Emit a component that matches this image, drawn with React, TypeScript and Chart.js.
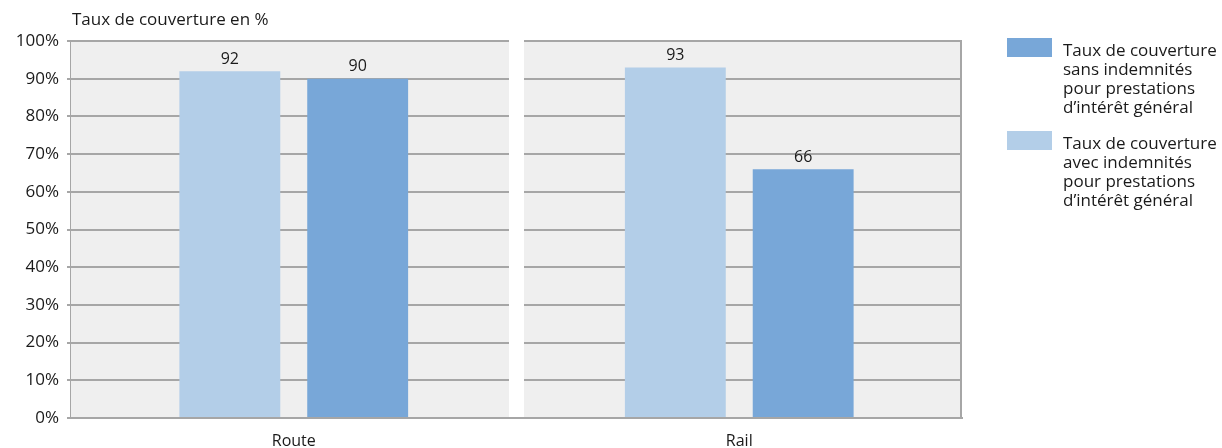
import React, { useEffect, useRef } from "react";
import { Chart, registerables } from "chart.js";

Chart.register(...registerables);

const categories = ["Route", "Rail"];
const avecValues = [92, 93];
const sansValues = [90, 66];
const yTicks = [0, 10, 20, 30, 40, 50, 60, 70, 80, 90, 100];
const axisTitle = "Taux de couverture en %";
const legendSans = ["Taux de couverture", "sans indemnités", "pour prestations", "d\u2019intérêt général"];
const legendAvec = ["Taux de couverture", "avec indemnités", "pour prestations", "d\u2019intérêt général"];

const LIGHT = "#b3cee8";
const DARK = "#78a7d8";
const GRID = "#a6a6a6";
const PANEL = "#efefef";
const TEXT = "#1a1a1a";
const FONT = "'Open Sans', sans-serif";

const panelPlugin = {
  id: "panels",
  beforeDatasetsDraw(chart: any) {
    const { ctx, chartArea, scales } = chart;
    const y = scales.y;
    const n = categories.length;
    const band = (chartArea.right - chartArea.left) / n;
    const gapHalf = 7.5;
    ctx.save();
    for (let i = 0; i < n; i++) {
      const l = chartArea.left + band * i + (i === 0 ? 0 : gapHalf);
      const r = chartArea.left + band * (i + 1) - (i === n - 1 ? 0 : gapHalf);
      ctx.fillStyle = PANEL;
      ctx.fillRect(l, chartArea.top, r - l, chartArea.bottom - chartArea.top);
      ctx.strokeStyle = GRID;
      ctx.lineWidth = 2;
      for (const t of yTicks) {
        const py = Math.round(y.getPixelForValue(t));
        ctx.beginPath();
        ctx.moveTo(l, py);
        ctx.lineTo(r, py);
        ctx.stroke();
      }
      if (i === n - 1) {
        ctx.beginPath();
        ctx.moveTo(r - 1, chartArea.top);
        ctx.lineTo(r - 1, chartArea.bottom);
        ctx.stroke();
      }
    }
    ctx.restore();
  },
  afterDatasetsDraw(chart: any) {
    const { ctx, chartArea } = chart;
    ctx.save();
    ctx.fillStyle = TEXT;
    ctx.font = `16px ${FONT}`;
    ctx.textAlign = "center";
    ctx.textBaseline = "middle";
    chart.data.datasets.forEach((ds: any, di: number) => {
      const meta = chart.getDatasetMeta(di);
      meta.data.forEach((bar: any, i: number) => {
        ctx.fillText(String(ds.data[i]), bar.x, bar.y - 12);
      });
    });
    ctx.textAlign = "left";
    ctx.font = `17px ${FONT}`;
    ctx.fillText(axisTitle, chartArea.left + 1, 20);
    ctx.restore();
  },
};

export default function App() {
  const ref = useRef<HTMLCanvasElement | null>(null);
  useEffect(() => {
    if (!ref.current) return;
    const chart = new Chart(ref.current, {
      type: "bar",
      data: {
        labels: categories,
        datasets: [
          {
            label: legendAvec.join(" "),
            data: avecValues,
            backgroundColor: LIGHT,
            categoryPercentage: 0.574,
            barPercentage: 0.789,
          },
          {
            label: legendSans.join(" "),
            data: sansValues,
            backgroundColor: DARK,
            categoryPercentage: 0.574,
            barPercentage: 0.789,
          },
        ],
      },
      options: {
        animation: false,
        responsive: false,
        maintainAspectRatio: false,
        layout: { padding: { top: 41, right: 260, bottom: 0, left: 0 } },
        plugins: {
          legend: { display: false },
          tooltip: { enabled: false },
          title: { display: false },
        },
        scales: {
          x: {
            afterFit: (s: any) => {
              s.height = 30;
            },
            grid: { display: false },
            border: { display: true, color: GRID, width: 2 },
            ticks: { color: TEXT, font: { family: FONT, size: 16 }, padding: 6 },
          },
          y: {
            min: 0,
            max: 100,
            afterFit: (s: any) => {
              s.width = 71;
            },
            afterBuildTicks: (s: any) => {
              s.ticks = yTicks.map((v) => ({ value: v }));
            },
            grid: { display: true, drawOnChartArea: false, drawTicks: true, tickLength: 4, color: GRID, lineWidth: 2 },
            border: { display: true, color: GRID, width: 2 },
            ticks: {
              color: TEXT,
              font: { family: FONT, size: 17 },
              padding: 8,
              callback: (v: any) => `${v}%`,
            },
          },
        },
      },
      plugins: [panelPlugin],
    });
    return () => chart.destroy();
  }, []);

  const item = (color: string, lines: string[], top: number) => (
    <div style={{ position: "absolute", left: 1007, top, display: "flex" }}>
      <div style={{ width: 45, height: 19, background: color }} />
      <div
        style={{
          marginLeft: 11,
          marginTop: 2,
          fontFamily: FONT,
          fontSize: 17,
          lineHeight: "19px",
          color: TEXT,
          whiteSpace: "nowrap",
        }}
      >
        {lines.map((l, i) => (
          <div key={i}>{l}</div>
        ))}
      </div>
    </div>
  );

  return (
    <div style={{ position: "fixed", left: 0, top: 0, width: 1222, height: 448, background: "#fff" }}>
      <canvas ref={ref} width={1222} height={448} style={{ display: "block" }} />
      {item(DARK, legendSans, 38)}
      {item(LIGHT, legendAvec, 131)}
    </div>
  );
}
